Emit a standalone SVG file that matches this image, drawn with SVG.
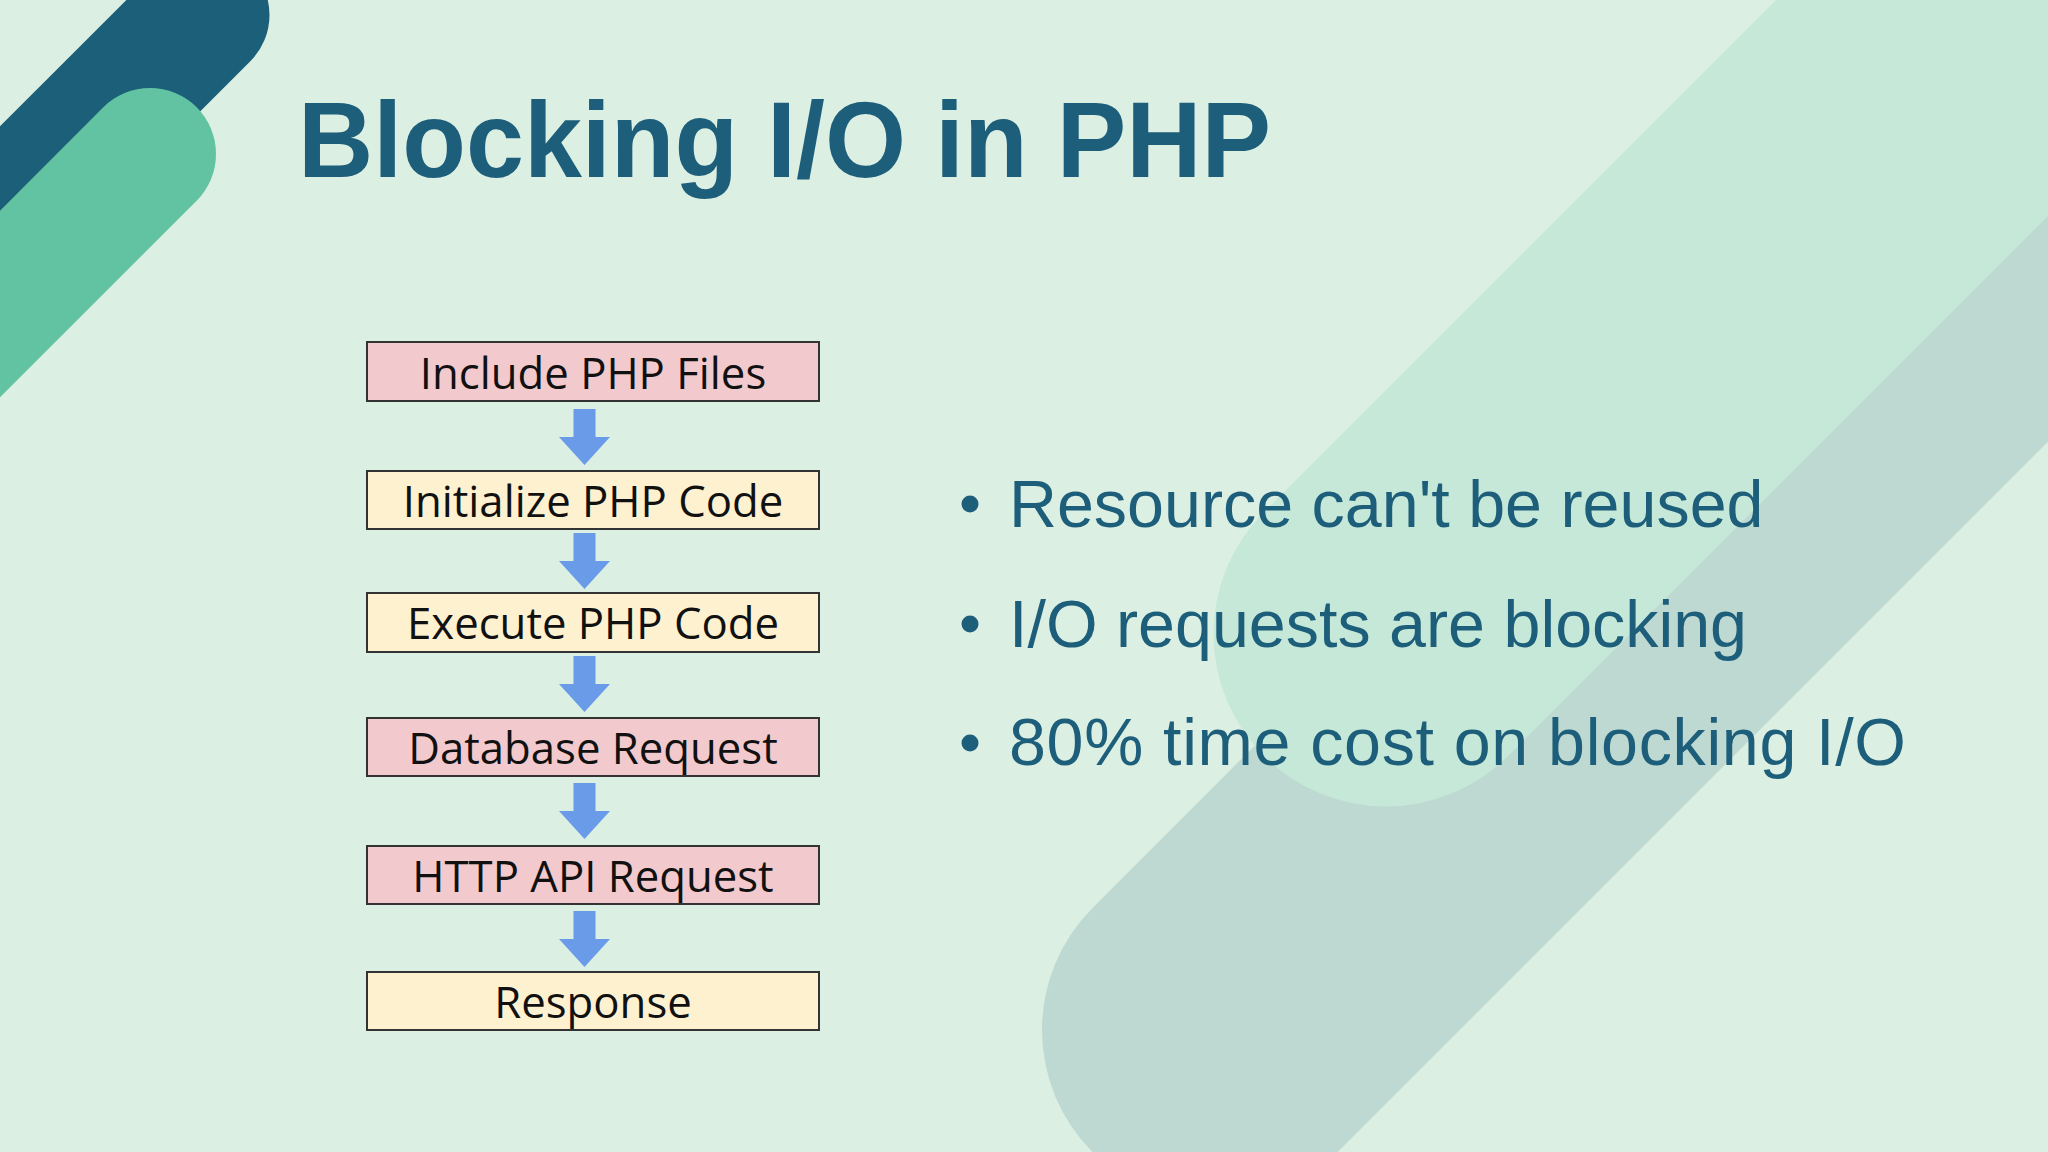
<svg xmlns="http://www.w3.org/2000/svg" width="2048" height="1152" viewBox="0 0 2048 1152">
  <style>
    .box-pink { fill: #F2CACD; stroke: #333333; stroke-width: 2; }
    .box-yellow { fill: #FEF1D0; stroke: #333333; stroke-width: 2; }
    .box-text { font-family: "Open Sans", "Noto Sans", "Liberation Sans", sans-serif; font-size: 43.7px; fill: #111111; text-anchor: middle; }
    .title { font-family: "Liberation Sans", Arial, sans-serif; font-weight: bold; font-size: 108px; fill: #1D5E7A; }
    .bullet { font-family: "Liberation Sans", Arial, sans-serif; font-size: 66.4px; fill: #1D5E7A; }
    .arrow { fill: #6A9BE8; }
  </style>
  <defs>
    <path id="arr" d="M-11,0 H11 V28 H25.5 L0,56 L-25.5,28 H-11 Z"/>
  </defs>

  <!-- background -->
  <rect x="0" y="0" width="2048" height="1152" fill="#DCEFE3"/>
  <g id="decor">
    <line x1="1215" y1="1030" x2="2615" y2="-370" stroke="#BED9D1" stroke-width="346" stroke-linecap="round"/>
    <line x1="1386" y1="634" x2="2786" y2="-766" stroke="#C6E8D8" stroke-width="345" stroke-linecap="round"/>
    <line x1="204" y1="15" x2="-800" y2="1019" stroke="#1C5F79" stroke-width="131" stroke-linecap="round"/>
    <line x1="150" y1="154" x2="-900" y2="1204" stroke="#62C3A2" stroke-width="132" stroke-linecap="round"/>
  </g>

  <g id="title">
    <text class="title" x="298" y="177" textLength="973" lengthAdjust="spacingAndGlyphs">Blocking I/O in PHP</text>
  </g>

  <g id="connectors">
    <use href="#arr" class="arrow" x="584.5" y="409"/>
    <use href="#arr" class="arrow" x="584.5" y="533"/>
    <use href="#arr" class="arrow" x="584.5" y="656"/>
    <use href="#arr" class="arrow" x="584.5" y="783"/>
    <use href="#arr" class="arrow" x="584.5" y="911"/>
  </g>

  <g id="node-include">
    <rect class="box-pink" x="367" y="342" width="452" height="59"/>
    <text class="box-text" x="593" y="389">Include PHP Files</text>
  </g>
  <g id="node-initialize">
    <rect class="box-yellow" x="367" y="471" width="452" height="58"/>
    <text class="box-text" x="593" y="517">Initialize PHP Code</text>
  </g>
  <g id="node-execute">
    <rect class="box-yellow" x="367" y="593" width="452" height="59"/>
    <text class="box-text" x="593" y="639">Execute PHP Code</text>
  </g>
  <g id="node-database">
    <rect class="box-pink" x="367" y="718" width="452" height="58"/>
    <text class="box-text" x="593" y="764">Database Request</text>
  </g>
  <g id="node-http">
    <rect class="box-pink" x="367" y="846" width="452" height="58"/>
    <text class="box-text" x="593" y="892">HTTP API Request</text>
  </g>
  <g id="node-response">
    <rect class="box-yellow" x="367" y="972" width="452" height="58"/>
    <text class="box-text" x="593" y="1018">Response</text>
  </g>

  <g id="bullets">
    <circle cx="970" cy="504" r="8.5" fill="#1D5E7A"/>
    <text class="bullet" x="1009" y="527">Resource can't be reused</text>
    <circle cx="970" cy="624" r="8.5" fill="#1D5E7A"/>
    <text class="bullet" x="1009" y="647">I/O requests are blocking</text>
    <circle cx="970" cy="743" r="8.5" fill="#1D5E7A"/>
    <text class="bullet" x="1009" y="765" textLength="897" lengthAdjust="spacing">80% time cost on blocking I/O</text>
  </g>
</svg>
